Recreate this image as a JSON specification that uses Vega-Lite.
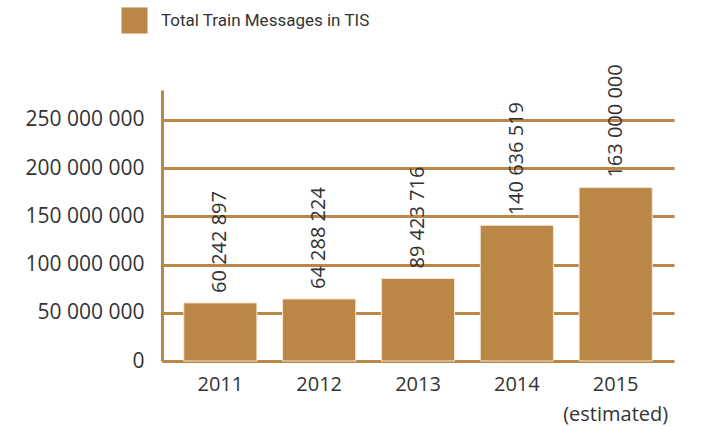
{
  "$schema": "https://vega.github.io/schema/vega-lite/v6.json",
  "width": 512,
  "height": 271,
  "autosize": {"type": "none"},
  "padding": {"left": 162, "top": 90, "right": 29, "bottom": 65},
  "config": {
    "font": "Open Sans",
    "view": {"stroke": null},
    "locale": {"number": {"decimal": ".", "thousands": " ", "grouping": [3], "currency": ["", ""]}}
  },
  "data": {
    "values": [
      {"year": "2011", "messages": 60242897, "label": "60 242 897", "series": "Total Train Messages in TIS"},
      {"year": "2012", "messages": 64288224, "label": "64 288 224", "series": "Total Train Messages in TIS"},
      {"year": "2013", "messages": 85600000, "label": "89 423 716", "series": "Total Train Messages in TIS"},
      {"year": "2014", "messages": 140636519, "label": "140 636 519", "series": "Total Train Messages in TIS"},
      {"year": "2015", "messages": 179800000, "label": "163 000 000", "series": "Total Train Messages in TIS"}
    ]
  },
  "encoding": {
    "x": {
      "field": "year", "type": "nominal",
      "scale": {"paddingInner": 0.26, "paddingOuter": 0.22},
      "axis": {
        "title": null, "labelAngle": 0, "domain": false, "ticks": false,
        "labelFontSize": 20, "labelColor": "#333333", "labelPadding": 13,
        "labelExpr": "datum.value == '2015' ? ['2015', '(estimated)'] : datum.label",
        "labelLineHeight": 30
      }
    },
    "y": {
      "field": "messages", "type": "quantitative",
      "scale": {"domain": [0, 281000000], "nice": false},
      "axis": {
        "title": null, "values": [0, 50000000, 100000000, 150000000, 200000000, 250000000],
        "format": ",d", "ticks": false, "labelFontSize": 21, "labelColor": "#333333",
        "labelPadding": 18, "domainColor": "#bb8747", "domainWidth": 3,
        "gridColor": "#bb8747", "gridWidth": 3, "gridOpacity": 1, "grid": true
      }
    }
  },
  "layer": [
    {
      "mark": {"type": "bar", "color": "#bb8747", "stroke": "#f3e6d4", "strokeWidth": 1},
      "encoding": {
        "color": {
          "field": "series", "type": "nominal",
          "scale": {"range": ["#bb8747"]},
          "legend": {
            "title": null, "orient": "none", "legendX": -41, "legendY": -83,
            "symbolType": "square", "symbolSize": 680, "symbolStrokeWidth": 0,
            "labelFont": "Roboto",
            "labelFontSize": 17, "labelColor": "#333333", "labelOffset": 13, "padding": 0,
            "labelLimit": 500
          }
        }
      }
    },
    {
      "mark": {"type": "text", "angle": -90, "align": "left", "baseline": "middle", "dx": 10, "fontSize": 20, "color": "#333333"},
      "encoding": {"text": {"field": "label"}}
    }
  ]
}
